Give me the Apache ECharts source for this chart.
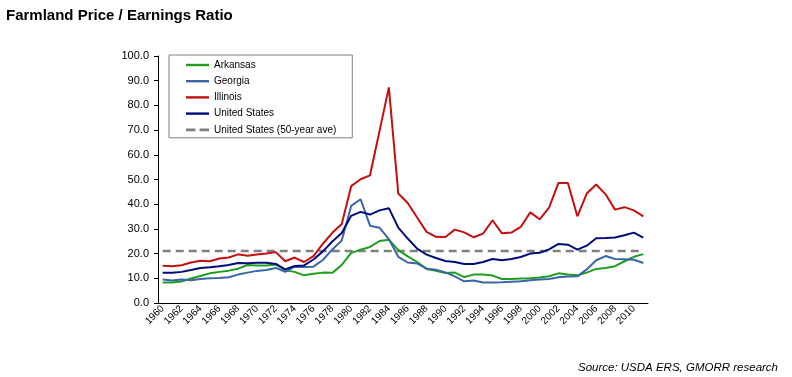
<!DOCTYPE html>
<html>
<head>
<meta charset="utf-8">
<script src="https://cdn.jsdelivr.net/npm/echarts@6/dist/echarts.min.js"></script>
<style>
  html, body { margin: 0; padding: 0; background: #fff; }
  #chart { width: 792px; height: 377px; }
</style>
</head>
<body>
<div id="chart"></div>
<script>
// Farmland price / earnings ratios, 1960-2011
const years = [
  '1960', '1961', '1962', '1963', '1964', '1965', '1966', '1967', '1968', '1969',
  '1970', '1971', '1972', '1973', '1974', '1975', '1976', '1977', '1978', '1979',
  '1980', '1981', '1982', '1983', '1984', '1985', '1986', '1987', '1988', '1989',
  '1990', '1991', '1992', '1993', '1994', '1995', '1996', '1997', '1998', '1999',
  '2000', '2001', '2002', '2003', '2004', '2005', '2006', '2007', '2008', '2009',
  '2010', '2011'
];

const arkansas = [
  8.3, 8.3, 8.7, 9.9, 10.9, 12.0, 12.6, 13.1, 13.9, 15.4,
  15.2, 15.2, 15.6, 13.3, 12.6, 11.2, 11.8, 12.3, 12.2, 15.4,
  20.3, 21.6, 22.7, 25.1, 25.6, 21.4, 18.9, 16.6, 13.8, 13.0,
  12.1, 12.3, 10.5, 11.5, 11.5, 11.1, 9.7, 9.7, 9.9, 10.0,
  10.3, 10.8, 12.0, 11.5, 11.2, 12.3, 13.8, 14.2, 14.9, 16.9,
  18.7, 19.8
];

const georgia = [
  9.5, 9.1, 9.5, 9.2, 9.7, 10.0, 10.1, 10.4, 11.5, 12.3,
  13.0, 13.4, 14.2, 12.6, 14.7, 14.6, 14.7, 17.4, 21.7, 25.3,
  39.3, 42.0, 31.3, 30.5, 25.9, 18.7, 16.4, 16.0, 13.9, 13.5,
  12.4, 10.8, 8.8, 9.1, 8.3, 8.3, 8.4, 8.6, 8.8, 9.2,
  9.5, 9.7, 10.4, 10.7, 10.8, 13.6, 17.3, 19.0, 17.8, 17.7,
  17.5, 16.2
];

const illinois = [
  15.1, 14.9, 15.3, 16.4, 17.1, 16.9, 18.0, 18.4, 19.7, 19.1,
  19.6, 20.0, 20.6, 16.9, 18.4, 16.6, 19.0, 24.0, 28.4, 32.0,
  47.3, 50.1, 51.7, 69.5, 87.3, 44.3, 40.5, 34.6, 28.8, 26.8,
  26.7, 29.7, 28.6, 26.6, 28.1, 33.5, 28.2, 28.5, 30.8, 36.7,
  33.9, 38.6, 48.6, 48.6, 35.1, 44.3, 48.0, 44.0, 37.8, 38.8,
  37.5, 35.1
];

const unitedStates = [
  12.2, 12.2, 12.6, 13.4, 14.2, 14.5, 14.9, 15.4, 16.2, 16.1,
  16.3, 16.3, 15.8, 13.6, 15.0, 15.2, 17.6, 20.9, 24.9, 28.3,
  35.3, 36.9, 35.8, 37.5, 38.4, 30.5, 26.1, 22.0, 19.6, 18.2,
  17.0, 16.6, 15.8, 15.8, 16.6, 17.8, 17.3, 17.8, 18.6, 20.0,
  20.3, 21.7, 23.9, 23.6, 21.6, 23.2, 26.2, 26.3, 26.5, 27.4,
  28.5, 26.5
];

// 50-year average of the US ratio, drawn flat across the whole range
const usAverage = 21.1;

const FONT = 'Arial, "Liberation Sans", sans-serif';

// legend swatches: a plain stroke, and a two-dash stroke for the average
const SOLID_ICON = 'path://M0,0H23V2.4H0Z';
const DASH_ICON = 'path://M0,0H9V2.6H0Z M13,0H22V2.6H13Z';

const chart = echarts.init( document.getElementById( 'chart' ) );

function lineSeries( name, data, color ) {
  return {
    name: name,
    type: 'line',
    data: data,
    symbol: 'none',
    lineStyle: { color: color, width: 2 },
    itemStyle: { color: color },
    emphasis: { disabled: true }
  };
}

const option = {
  animation: false,
  title: [
    {
      text: 'Farmland Price / Earnings Ratio',
      left: 6,
      top: 8,
      padding: 0,
      textStyle: { fontFamily: FONT, fontSize: 15, fontWeight: 'bold', color: '#000' }
    },
    {
      text: 'Source: USDA ERS, GMORR research',
      right: 14,
      bottom: 3,
      padding: 0,
      textStyle: { fontFamily: FONT, fontSize: 11.5, fontStyle: 'italic', fontWeight: 'normal', color: '#000' }
    }
  ],
  legend: {
    orient: 'vertical',
    left: 169,
    top: 55,
    padding: [ 3, 16, 1, 17 ],
    borderColor: '#808080',
    borderWidth: 1,
    itemWidth: 23,
    itemHeight: 14,
    itemGap: 2.2,
    symbolKeepAspect: true,
    textStyle: { fontFamily: FONT, fontSize: 10, lineHeight: 14, color: '#000' },
    data: [
      { name: 'Arkansas', icon: SOLID_ICON },
      { name: 'Georgia', icon: SOLID_ICON },
      { name: 'Illinois', icon: SOLID_ICON },
      { name: 'United States', icon: SOLID_ICON },
      { name: 'United States (50-year ave)', icon: DASH_ICON }
    ]
  },
  grid: { left: 158, right: 144, top: 56, bottom: 74, containLabel: false },
  xAxis: {
    type: 'category',
    data: years,
    boundaryGap: true,
    axisLine: { lineStyle: { color: '#000', width: 1 } },
    axisTick: { interval: 0, length: 4, lineStyle: { color: '#000' } },
    axisLabel: {
      interval: 1,
      rotate: 45,
      margin: 4,
      fontFamily: FONT,
      fontSize: 10,
      color: '#000'
    },
    splitLine: { show: false }
  },
  yAxis: {
    type: 'value',
    min: 0,
    max: 100,
    interval: 10,
    axisLine: { show: true, lineStyle: { color: '#000', width: 1 } },
    axisTick: { show: true, length: 4, lineStyle: { color: '#000' } },
    axisLabel: {
      margin: 9,
      fontFamily: FONT,
      fontSize: 11,
      color: '#000',
      formatter: ( v ) => v.toFixed( 1 )
    },
    splitLine: { show: false }
  },
  series: [
    {
      name: 'United States (50-year ave)',
      type: 'line',
      data: years.map( () => usAverage ),
      symbol: 'none',
      lineStyle: { color: '#808080', width: 2.5, type: [ 8, 5 ] },
      itemStyle: { color: '#808080' },
      emphasis: { disabled: true }
    },
    lineSeries( 'Arkansas', arkansas, '#1E9E1E' ),
    lineSeries( 'Georgia', georgia, '#3A65A8' ),
    lineSeries( 'United States', unitedStates, '#000C7D' ),
    lineSeries( 'Illinois', illinois, '#C40F0F' )
  ]
};

chart.setOption( option );
</script>
</body>
</html>
